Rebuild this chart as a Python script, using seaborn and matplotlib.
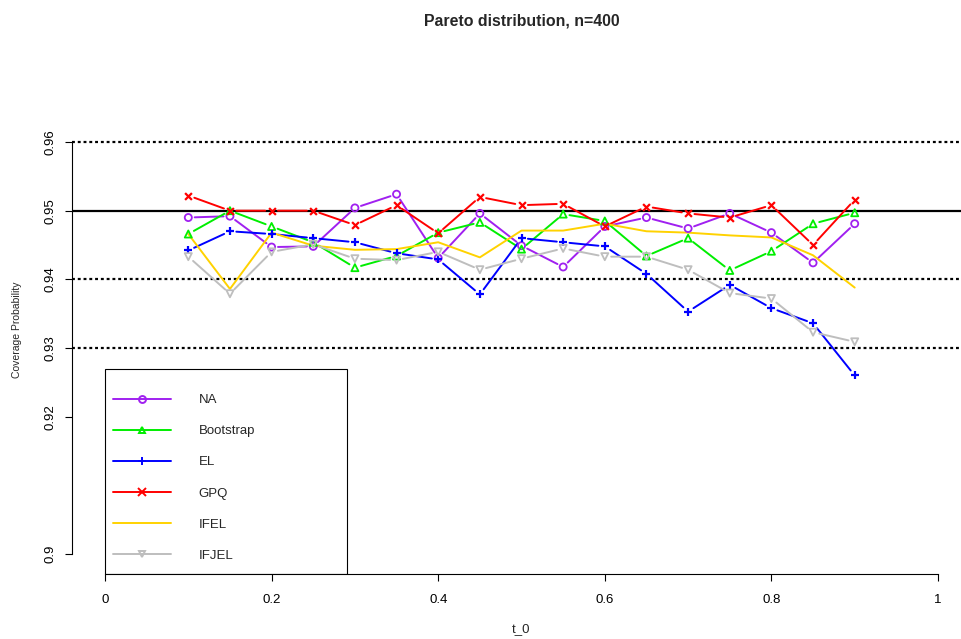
import matplotlib
matplotlib.use("Agg")
import matplotlib.pyplot as plt
import pandas as pd
import seaborn as sns
from matplotlib.lines import Line2D
from matplotlib.patches import Rectangle

# Coverage probabilities of six interval methods over t_0
t0 = [0.10, 0.15, 0.20, 0.25, 0.30, 0.35, 0.40, 0.45, 0.50,
      0.55, 0.60, 0.65, 0.70, 0.75, 0.80, 0.85, 0.90]
cp_na = [0.9490, 0.9492, 0.9447, 0.9448, 0.9504, 0.9524, 0.9431, 0.9496, 0.9449,
         0.9418, 0.9477, 0.9490, 0.9474, 0.9496, 0.9468, 0.9424, 0.9481]
cp_boot = [0.9466, 0.9500, 0.9477, 0.9454, 0.9417, 0.9434, 0.9468, 0.9483, 0.9444,
           0.9495, 0.9485, 0.9434, 0.9460, 0.9413, 0.9441, 0.9481, 0.9497]
cp_el = [0.9442, 0.9470, 0.9466, 0.9460, 0.9454, 0.9438, 0.9429, 0.9378, 0.9460,
         0.9454, 0.9448, 0.9408, 0.9353, 0.9392, 0.9358, 0.9336, 0.9260]
cp_gpq = [0.9522, 0.9500, 0.9500, 0.9500, 0.9479, 0.9508, 0.9467, 0.9520, 0.9508,
          0.9510, 0.9477, 0.9506, 0.9496, 0.9490, 0.9508, 0.9450, 0.9516]
cp_ifel = [0.9466, 0.9386, 0.9468, 0.9449, 0.9443, 0.9444, 0.9454, 0.9432, 0.9471,
           0.9471, 0.9481, 0.9470, 0.9468, 0.9464, 0.9461, 0.9435, 0.9388]
cp_ifjel = [0.9433, 0.9379, 0.9440, 0.9451, 0.9430, 0.9428, 0.9440, 0.9414, 0.9430,
            0.9445, 0.9433, 0.9433, 0.9414, 0.9380, 0.9372, 0.9323, 0.9309]

methods = ["NA", "Bootstrap", "EL", "GPQ", "IFEL", "IFJEL"]
series = {"NA": cp_na, "Bootstrap": cp_boot, "EL": cp_el,
          "GPQ": cp_gpq, "IFEL": cp_ifel, "IFJEL": cp_ifjel}

nominal = 0.95
ref_levels = [0.96, 0.94, 0.93]
x_ticks = [0, 0.2, 0.4, 0.6, 0.8, 1]
x_ticklabels = ["0", "0.2", "0.4", "0.6", "0.8", "1"]
y_ticks = [0.90, 0.92, 0.93, 0.94, 0.95, 0.96]
y_ticklabels = ["0.9", "0.92", "0.93", "0.94", "0.95", "0.96"]

colors = {"NA": "#A020F0", "Bootstrap": "#00EE00", "EL": "#0000FF",
          "GPQ": "#FF0000", "IFEL": "#FFD200", "IFJEL": "#BEBEBE"}
markers = {"NA": "o", "Bootstrap": "^", "EL": "+", "GPQ": "x",
           "IFEL": None, "IFJEL": "v"}

df = pd.DataFrame([(m, x, y) for m in methods for x, y in zip(t0, series[m])],
                  columns=["method", "t0", "cp"])

sns.set_style("white")
plt.rcParams["font.family"] = ["Liberation Sans", "DejaVu Sans"]

W, H = 961, 639
fig = plt.figure(figsize=(W / 100, H / 100), dpi=100)
left_px, right_px, bottom_px, top_px = 72, 961, 574, 90
ax = fig.add_axes([left_px / W, 1 - bottom_px / H,
                   (right_px - left_px) / W, (bottom_px - top_px) / H])

# data -> pixel scale: x 0..1 spans 105..938 px, y 0.90..0.96 spans 554..142 px
px_per_x = 833.0
px_per_y = 412.0 / 0.06
ax.set_xlim(0 - (105 - left_px) / px_per_x, 1 + (right_px - 938) / px_per_x)
ax.set_ylim(0.90 - (bottom_px - 554) / px_per_y, 0.96 + (142 - top_px) / px_per_y)

# reference lines
ax.axhline(nominal, color="black", lw=1.6, zorder=1)
for lv in ref_levels:
    ax.axhline(lv, color="black", lw=1.6, ls=(0, (1.3, 1.3)), zorder=1)

lw = 1.4
gap_pt = 4.6
for m in methods:
    sub = df[df["method"] == m]
    c = colors[m]
    if markers[m] is None:
        sns.lineplot(data=sub, x="t0", y="cp", color=c, lw=lw, ax=ax,
                     estimator=None, sort=False, legend=False, zorder=3)
        continue
    xs, ys = sub["t0"].tolist(), sub["cp"].tolist()
    # connecting segments stop short of each point marker
    for i in range(len(xs) - 1):
        ax.annotate("", xy=(xs[i + 1], ys[i + 1]), xytext=(xs[i], ys[i]),
                    xycoords="data", textcoords="data",
                    arrowprops=dict(arrowstyle="-", color=c, lw=lw,
                                    shrinkA=gap_pt, shrinkB=gap_pt),
                    zorder=3)
    mk = markers[m]
    if mk == "+":
        sns.scatterplot(data=sub, x="t0", y="cp", marker=mk, color=c, s=36,
                        linewidth=1.6, ax=ax, legend=False, zorder=4)
    elif mk == "x":
        sns.scatterplot(data=sub, x="t0", y="cp", marker=mk, color=c, s=24,
                        linewidth=1.6, ax=ax, legend=False, zorder=4)
    else:
        sns.scatterplot(data=sub, x="t0", y="cp", marker=mk, facecolors="none",
                        edgecolor=c, s=26, linewidth=1.3, ax=ax, legend=False,
                        zorder=4)

# axes drawn in the classic style: only the ticked ranges
for s in ["top", "right"]:
    ax.spines[s].set_visible(False)
ax.spines["left"].set_bounds(0.90, 0.96)
ax.spines["bottom"].set_bounds(0, 1)
for s in ["left", "bottom"]:
    ax.spines[s].set_linewidth(0.8)
    ax.spines[s].set_color("black")
ax.set_xticks(x_ticks)
ax.set_xticklabels(x_ticklabels)
ax.set_yticks(y_ticks)
ax.set_yticklabels(y_ticklabels, rotation=90, va="center")
ax.tick_params(axis="both", direction="out", length=5, width=0.8,
               colors="black", labelsize=9.5, left=True, bottom=True)
ax.tick_params(axis="y", pad=6)
ax.tick_params(axis="x", pad=9.5)
ax.set_xlabel("")
ax.set_ylabel("")
ax.patch.set_visible(False)

fig.text(521.5 / W, 1 - 629 / H, "t_0", ha="center", va="center", fontsize=9.5)
fig.text(17 / W, 1 - 330 / H, "Coverage Probability", ha="center", va="center",
         rotation=90, fontsize=7.5)
fig.text(521.5 / W, 1 - 21 / H, "Pareto distribution, n=400", ha="center",
         va="center", fontsize=11.4, fontweight="bold")

# legend box, clipped at the bottom of the plotting region
box_top = 0.95 - (368 - 210) / px_per_y
box_right = (347 - 105) / px_per_x
ax.add_patch(Rectangle((0, ax.get_ylim()[0]), box_right, box_top - ax.get_ylim()[0],
                       fill=False, edgecolor="black", lw=0.8, zorder=5,
                       clip_on=True))
handles = []
for m in methods:
    mk = markers[m]
    handles.append(Line2D([0], [0], color=colors[m], lw=lw,
                          marker=mk if mk else None,
                          markersize=6 if mk in ("+", "x") else 5,
                          markerfacecolor="none", markeredgecolor=colors[m],
                          markeredgewidth=1.4))
leg = ax.legend(handles, methods, loc="upper left",
                bbox_to_anchor=(113 / W, 1 - 394 / H),
                bbox_transform=fig.transFigure, frameon=False, borderpad=0,
                borderaxespad=0, fontsize=9.5, handlelength=4.4,
                handletextpad=2.1, labelspacing=1.43)

fig.savefig("out.png", dpi=100)
